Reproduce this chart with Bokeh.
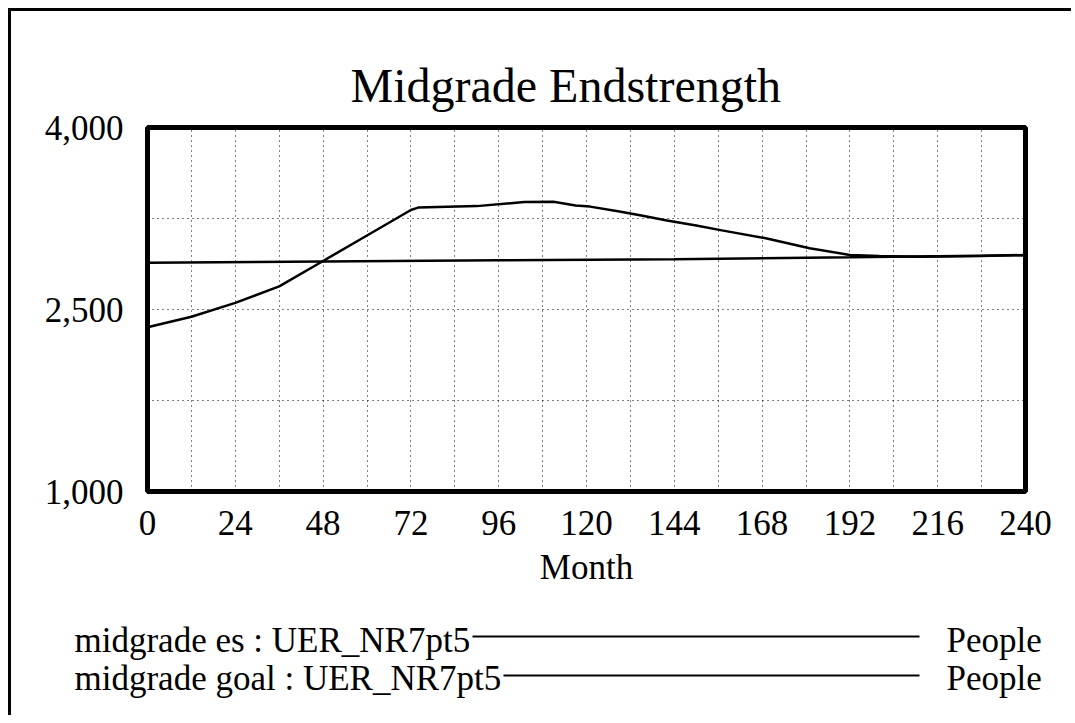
from bokeh.plotting import figure
from bokeh.models import Range1d, FixedTicker, NumeralTickFormatter, ColumnDataSource
from bokeh.layouts import column
from bokeh.core.properties import value
from bokeh.embed import file_html
from bokeh.resources import INLINE

# ---- data ----
title_text = "Midgrade Endstrength"
x_label = "Month"
x_ticks = [0, 24, 48, 72, 96, 120, 144, 168, 192, 216, 240]
x_grid = [12, 24, 36, 48, 60, 72, 84, 96, 108, 120, 132, 144, 156, 168, 180, 192, 204, 216, 228]
y_ticks = [1000, 2500, 4000]
y_grid = [1750, 2500, 3250]

es_month = [0, 12, 24, 36, 48, 60, 72, 74, 90, 103, 111, 117, 121, 129, 135, 142, 150, 157, 169, 181, 192, 200, 211, 228, 240]
es_value = [2353, 2440, 2555, 2690, 2900, 3110, 3320, 3340, 3352, 3385, 3388, 3358, 3348, 3307, 3275, 3234, 3193, 3152, 3087, 3005, 2950, 2940, 2935, 2940, 2950]

goal_month = [0, 48, 96, 144, 192, 240]
goal_value = [2885, 2895, 2905, 2915, 2930, 2948]

legend_names = ["midgrade es : UER_NR7pt5", "midgrade goal : UER_NR7pt5"]
legend_units = ["People", "People"]

FONT = "Liberation Serif"

p = figure(width=1060, height=587, output_backend="svg", toolbar_location=None,
           x_range=Range1d(0, 240), y_range=Range1d(1000, 4000),
           min_border_left=136, min_border_right=46, min_border_top=116, min_border_bottom=107)
p.frame_align = False

p.title.text = title_text
p.title.text_font = FONT
p.title.text_font_size = "48px"
p.title.text_font_style = "normal"
p.title.align = "left"
p.title.offset = 203
p.title.standoff = 32
p.title.text_color = "black"

p.outline_line_color = "black"
p.outline_line_width = 5
p.background_fill_color = "white"
p.border_fill_color = "white"

# axes
p.xaxis.ticker = FixedTicker(ticks=x_ticks)
p.yaxis.ticker = FixedTicker(ticks=y_ticks)
p.yaxis.formatter = NumeralTickFormatter(format="0,0")
for ax in (p.xaxis[0], p.yaxis[0]):
    ax.axis_line_color = None
    ax.major_tick_line_color = None
    ax.minor_tick_line_color = None
    ax.major_label_text_font = FONT
    ax.major_label_text_font_size = "35px"
    ax.major_label_text_color = "black"
p.xaxis.major_label_standoff = 13
p.yaxis.major_label_standoff = 18
p.xaxis.axis_label = x_label
p.xaxis.axis_label_text_font = FONT
p.xaxis.axis_label_text_font_size = "35px"
p.xaxis.axis_label_text_font_style = "normal"
p.xaxis.axis_label_text_color = "black"
p.xaxis.axis_label_standoff = 10

# grids
p.xgrid.ticker = FixedTicker(ticks=x_grid)
p.ygrid.ticker = FixedTicker(ticks=y_grid)
for g in (p.xgrid[0], p.ygrid[0]):
    g.grid_line_color = "black"
    g.grid_line_dash = "1 4"
    g.grid_line_width = 1

p.line(es_month, es_value, line_color="black", line_width=2.5)
p.line(goal_month, goal_value, line_color="black", line_width=2.5)

# ---- legend strip ----
leg = figure(width=1060, height=117, output_backend="svg", toolbar_location=None,
             x_range=Range1d(0, 1060), y_range=Range1d(117, 0),
             min_border=0, min_border_left=0, min_border_right=0, min_border_top=0, min_border_bottom=0)
leg.frame_align = False
leg.axis.visible = False
leg.grid.visible = False
leg.outline_line_color = None
leg.border_fill_color = "white"
leg.background_fill_color = "white"

row_text_y = [42, 80]
row_line_y = [38, 77]
src = ColumnDataSource(dict(x=[63, 63], y=row_text_y, t=legend_names))
leg.text(x="x", y="y", text="t", source=src, text_font=value(FONT), text_font_size="35px",
         text_baseline="alphabetic", text_align="left", text_color="black")
src2 = ColumnDataSource(dict(x=[935, 935], y=row_text_y, t=legend_units))
leg.text(x="x", y="y", text="t", source=src2, text_font=value(FONT), text_font_size="35px",
         text_baseline="alphabetic", text_align="left", text_color="black")
leg.segment(x0=[461, 492], y0=row_line_y, x1=[908, 908], y1=row_line_y, line_color="black", line_width=2)

layout = column(p, leg, spacing=0,
                styles={"border-top": "3px solid black", "border-left": "3px solid black",
                        "margin-left": "8px", "margin-top": "8px"})

open("out.html", "w").write(file_html(layout, INLINE))
